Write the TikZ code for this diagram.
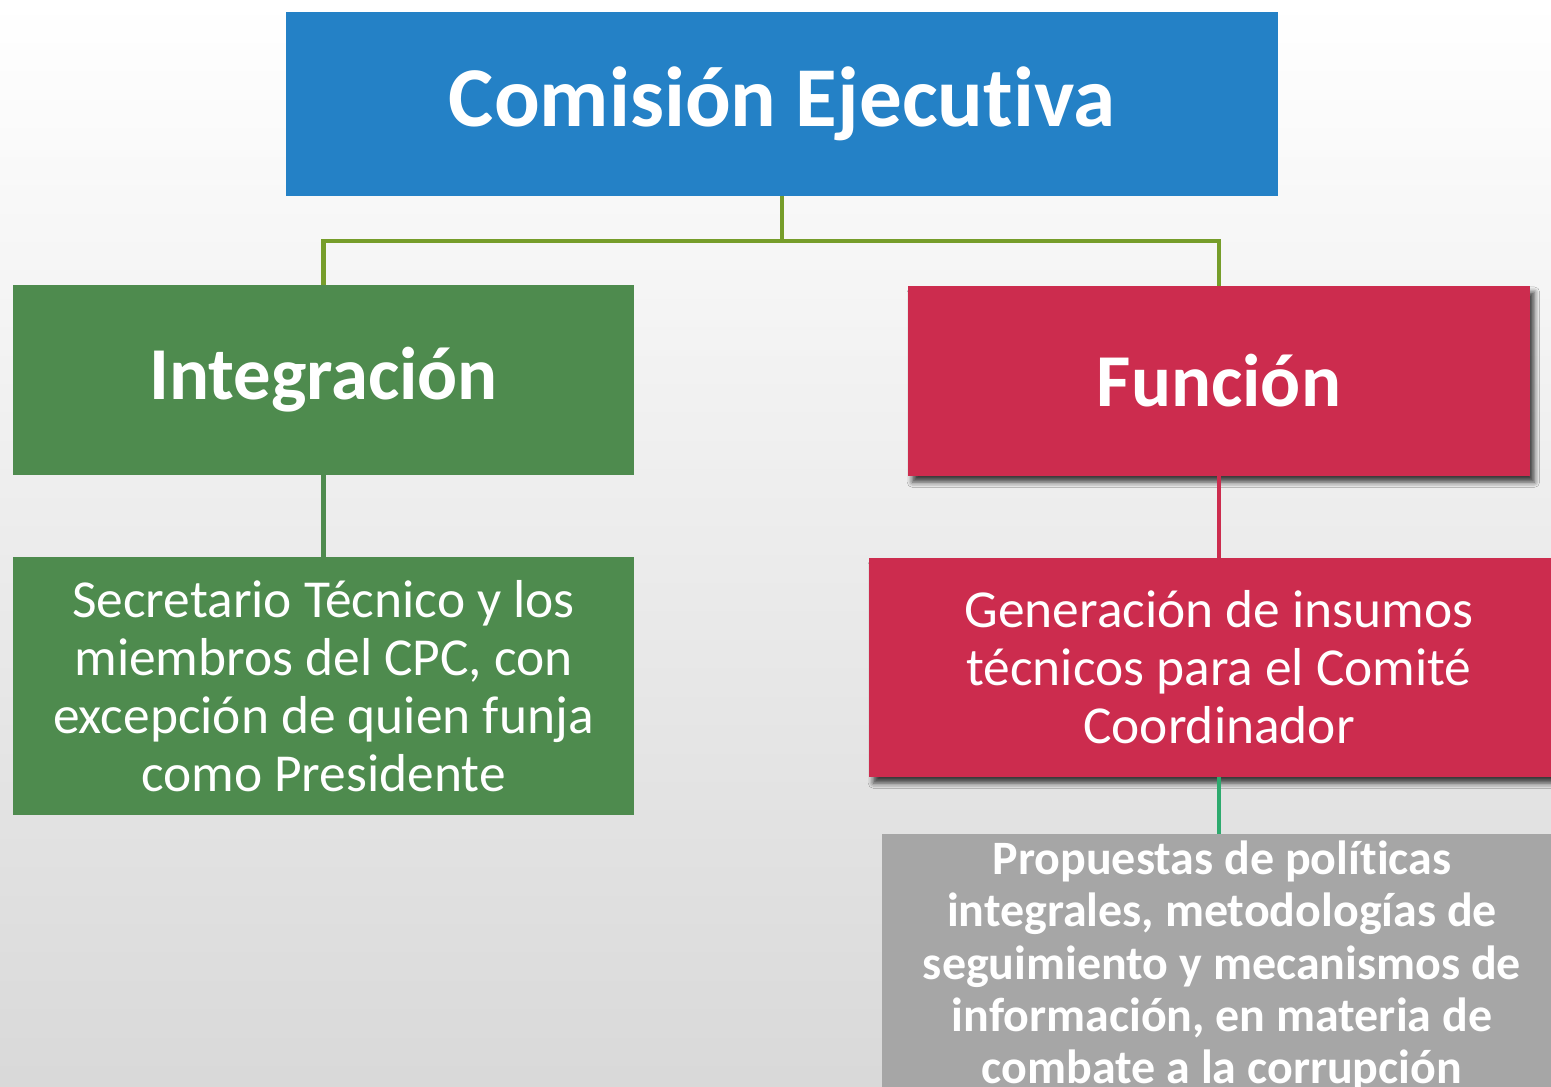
\documentclass[tikz,border=0pt]{standalone}
\usepackage{fontspec}
\setmainfont{Carlito}[RawFeature={-liga;-clig;-calt;-dlig}]
\usetikzlibrary{positioning,shadows.blur}
\definecolor{cejblue}{RGB}{36,129,198}
\definecolor{cejgreen}{RGB}{78,139,78}
\definecolor{cejred}{RGB}{204,44,78}
\definecolor{cejgray}{RGB}{166,166,166}
\definecolor{cejolive}{RGB}{118,157,42}
\definecolor{cejteal}{RGB}{46,170,110}

\begin{document}
\begin{tikzpicture}[x=0.02cm,y=-0.02cm]
\tikzstyle{box}=[rectangle,inner sep=0pt,outer sep=0pt,
text=white,align=center]
\tikzstyle{head}=[box,font=\fontsize{42.5}{48}\selectfont\bfseries]
\tikzstyle{body}=[box,font=\fontsize{30.4}{33}\selectfont]
\tikzstyle{dropped}=[blur shadow={shadow xshift=2.5pt,shadow yshift=-3.5pt,
shadow blur radius=3pt,shadow opacity=75}]
\tikzstyle{link}=[line width=2.8pt]

\useasboundingbox (0,0) rectangle (1551,1087);
\clip (0,0) rectangle (1551,1087);
\shade[top color=white,bottom color=gray!30] (0,0) rectangle (1551,1087);

\node[box,fill=cejblue,minimum width=19.84cm,minimum height=3.68cm,
font=\fontsize{48.5}{56}\selectfont\bfseries] at (782,104) (title) {Comisión Ejecutiva};
\node[head,fill=cejgreen,minimum width=12.42cm,minimum height=3.8cm] at (323.5,380) (integ) {Integración};
\node[head,fill=cejred,dropped,minimum width=12.44cm,minimum height=3.8cm] at (1219,381) (func) {Función};
\node[body,fill=cejgreen,minimum width=12.42cm,minimum height=5.16cm,
below of =integ,node distance=6.12cm] (secr) {Secretario Técnico y los\\miembros del CPC, con\\excepción de quien funja\\como Presidente};
\node[body,fill=cejred,dropped,minimum width=14cm,minimum height=4.38cm,
below of =func,node distance=5.73cm] (gen) {Generación de insumos\\técnicos para el Comité\\Coordinador};
\node[box,fill=cejgray,minimum width=13.6cm,minimum height=5.3cm,
font=\fontsize{27.3}{29.7}\selectfont\bfseries] at (1222,966) (prop) {Propuestas de políticas\\integrales, metodologías de\\seguimiento y mecanismos de\\información, en materia de\\combate a la corrupción};

\draw[link,cejolive] (title.south) -- ++(0,45) -| (integ.north);
\draw[link,cejolive] (title.south) -- ++(0,45) -| (func.north);
\draw[link,cejgreen] (integ.south) -- (secr.north);
\draw[link,cejred] (func.south) -- (gen.north);
\draw[link,cejteal] (gen.south) -- (gen.south |- prop.north);

\end{tikzpicture}
\end{document}
